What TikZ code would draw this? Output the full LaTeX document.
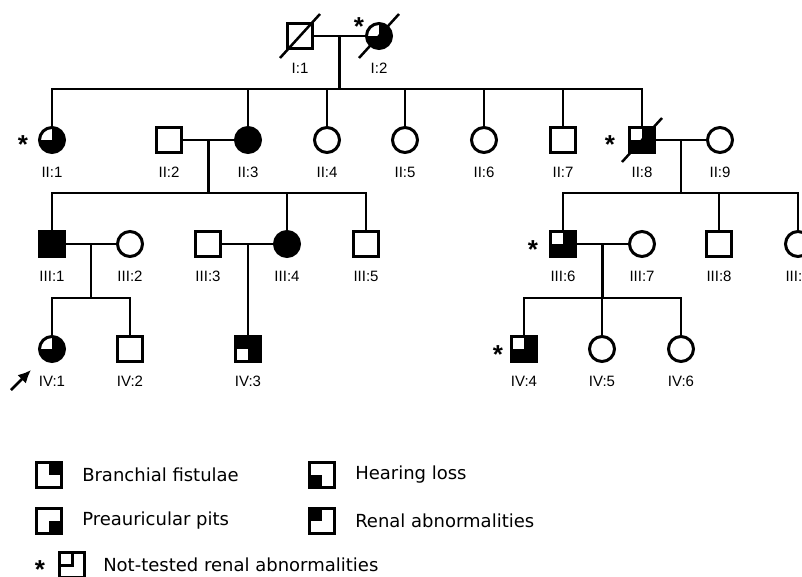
\documentclass[tikz,border=0pt]{standalone}
\usepackage{fontspec}
\setmainfont{Liberation Sans}
\newfontfamily\legendfont{DejaVu Sans}
\usetikzlibrary{arrows.meta}
\usetikzlibrary{positioning}
\usetikzlibrary{calc}
\newcommand{\deceased}[1]{%
    \draw[line width=2.5pt] ([shift={(-20pt,-22pt)}]#1.center) -- ([shift={(20pt,22pt)}]#1.center)%
}
\newcommand{\sibship}[3]{%
    \draw (#1) -- (#2);
    \foreach \c in {#3} {\draw (#2) -| (\c);}%
}

\begin{document}
\begin{tikzpicture}[x=1pt, y=-1pt,
                    line width=2.5pt,
                    male/.style={
                        rectangle, draw, line width=3pt, fill=white,
                        minimum size=25pt, inner sep=0pt
                    },
                    female/.style={
                        circle, draw, line width=3pt, fill=white,
                        minimum size=25pt, inner sep=0pt
                    },
                    affected/.style={fill=black},
                    quad/.style={path picture={
                        \fill[black] (path picture bounding box.center)
                            rectangle (path picture bounding box.#1);}},
                    spared/.style={fill=black, path picture={
                        \fill[white] (path picture bounding box.center)
                            rectangle (path picture bounding box.#1);}},
                    pid/.style={label={[idlabel]below:{#1}}},
                    idlabel/.style={
                        font=\fontsize{15}{15}\selectfont,
                        inner sep=0pt, label distance=11.5pt
                    },
                    ntmark/.style={
                        font=\fontsize{26}{26}\selectfont\bfseries,
                        anchor=base, inner sep=0pt
                    },
                    legendtext/.style={
                        font=\legendfont\fontsize{18}{18}\selectfont,
                        anchor=west, inner sep=0pt
                    }]

    \useasboundingbox (0,0) rectangle (802,577);

    % generation I
    \node[male, pid=I:1] (i1) at (300,36) {};
    \node[female, spared=north west, pid=I:2] (i2) at (379,36) {};

    % generation II
    \node[female, spared=north west, pid=II:1] (ii1) at (52,140) {};
    \node[male, pid=II:2] (ii2) at (169,140) {};
    \node[female, affected, pid=II:3] (ii3) at (248,140) {};
    \node[female, pid=II:4] (ii4) at (327,140) {};
    \node[female, pid=II:5] (ii5) at (405,140) {};
    \node[female, pid=II:6] (ii6) at (484,140) {};
    \node[male, pid=II:7] (ii7) at (563,140) {};
    \node[male, spared=north west, pid=II:8] (ii8) at (642,140) {};
    \node[female, pid=II:9] (ii9) at (720,140) {};

    % generation III
    \node[male, affected, pid=III:1] (iii1) at (52,244) {};
    \node[female, pid=III:2] (iii2) at (130,244) {};
    \node[male, pid=III:3] (iii3) at (208,244) {};
    \node[female, affected, pid=III:4] (iii4) at (287,244) {};
    \node[male, pid=III:5] (iii5) at (366,244) {};
    \node[male, spared=north west, pid=III:6] (iii6) at (563,244) {};
    \node[female, pid=III:7] (iii7) at (642,244) {};
    \node[male, pid=III:8] (iii8) at (719,244) {};
    \node[female, pid=III:9] (iii9) at (798,244) {};

    % generation IV
    \node[female, spared=north west, pid=IV:1] (iv1) at (52,349) {};
    \node[male, pid=IV:2] (iv2) at (130,349) {};
    \node[male, spared=south west, pid=IV:3] (iv3) at (248,349) {};
    \node[male, spared=north west, pid=IV:4] (iv4) at (524,349) {};
    \node[female, pid=IV:5] (iv5) at (602,349) {};
    \node[female, pid=IV:6] (iv6) at (681,349) {};

    % couples and their children
    \draw (i1) -- (i2);
    \coordinate (m1) at ($(i1)!0.5!(i2)$);
    \coordinate (s1) at (m1 |- 0,89);
    \sibship{m1}{s1}{ii1,ii3,ii4,ii5,ii6,ii7,ii8}

    \draw (ii2) -- (ii3);
    \coordinate (m2) at ($(ii2)!0.5!(ii3)$);
    \coordinate (s2) at (m2 |- 0,193);
    \sibship{m2}{s2}{iii1,iii4,iii5}

    \draw (ii8) -- (ii9);
    \coordinate (m3) at ($(ii8)!0.5!(ii9)$);
    \coordinate (s3) at (m3 |- 0,193);
    \sibship{m3}{s3}{iii6,iii8,iii9}

    \draw (iii1) -- (iii2);
    \coordinate (m4) at ($(iii1)!0.5!(iii2)$);
    \coordinate (s4) at (m4 |- 0,298);
    \sibship{m4}{s4}{iv1,iv2}

    \draw (iii3) -- (iii4);
    \coordinate (m5) at (248,244);
    \draw (m5) -- (iv3);

    \draw (iii6) -- (iii7);
    \coordinate (m6) at ($(iii6)!0.5!(iii7)$);
    \coordinate (s6) at (m6 |- 0,298);
    \sibship{m6}{s6}{iv4,iv5,iv6}

    \deceased{i1};
    \deceased{i2};
    \deceased{ii8};

    % not tested for renal abnormalities
    \node[ntmark] (i2n) at ([xshift=-20pt, yshift=0pt]i2.center) {*};
    \node[ntmark] (ii1n) at ([xshift=-29pt, yshift=-14pt]ii1.center) {*};
    \node[ntmark] (ii8n) at ([xshift=-32pt, yshift=-14pt]ii8.center) {*};
    \node[ntmark] (iii6n) at ([xshift=-30pt, yshift=-14pt]iii6.center) {*};
    \node[ntmark] (iv4n) at ([xshift=-26pt, yshift=-14pt]iv4.center) {*};

    % proband
    \coordinate (pbtail) at (11,390);
    \coordinate (pbhead) at (31,370);
    \draw[-{Latex[length=13pt,width=12pt]}, line width=2.5pt] (pbtail) -- (pbhead);

    % legend
    \node[male, quad=north east] (lg1) at (49,475) {};
    \node[legendtext, right=18pt of lg1] (lg1t) {Branchial fistulae};
    \node[male, quad=south east] (lg2) at (49,521) {};
    \node[legendtext, right=18pt of lg2] (lg2t) {Preauricular pits};
    \node[male, quad=south west] (lg3) at (322,475) {};
    \node[legendtext, right=18pt of lg3] (lg3t) {Hearing loss};
    \node[male, quad=north west] (lg4) at (322,521) {};
    \node[legendtext, right=18pt of lg4] (lg4t) {Renal abnormalities};
    \node[male, path picture={
        \draw[line width=3pt] (path picture bounding box.north)
            -- (path picture bounding box.center)
            -- (path picture bounding box.west);}] (lg5) at (72,565) {};
    \node[ntmark] (lg5n) at ([xshift=-32pt, yshift=-13pt]lg5.center) {*};
    \node[legendtext, right=16pt of lg5] (lg5t) {Not-tested renal abnormalities};

\end{tikzpicture}
\end{document}
